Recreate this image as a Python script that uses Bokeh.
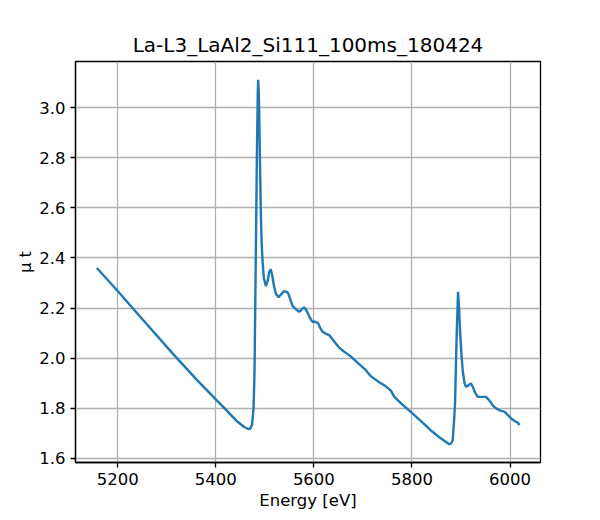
from bokeh.embed import file_html
from bokeh.resources import INLINE
from bokeh.models import FixedTicker, PrintfTickFormatter, Range1d
from bokeh.plotting import figure

# Energy scan
energy = [5157.6, 5200, 5224, 5250, 5316, 5360, 5400, 5415, 5442, 5458, 5466,
          5470, 5474, 5477, 5479, 5481.5, 5483.7, 5485.5, 5486.4, 5487.5, 5488.4,
          5490, 5491.8, 5493.5, 5495.3, 5498, 5502, 5506, 5509, 5512, 5515,
          5519, 5523, 5528, 5533, 5539.5, 5544, 5547.6, 5552, 5556.5, 5562,
          5570, 5575, 5580, 5585, 5591, 5597, 5603, 5608, 5613, 5618,
          5625, 5631, 5640, 5650, 5660, 5675, 5690, 5706, 5716, 5730,
          5745, 5757, 5764, 5780, 5801, 5820, 5838, 5855, 5870, 5876,
          5880, 5883, 5885.5, 5887.8, 5891, 5893.9, 5896, 5898, 5901, 5903.4,
          5907, 5910, 5915, 5920, 5924, 5929, 5934, 5942, 5951, 5958,
          5965, 5972, 5981.6, 5988, 5993, 6002, 6010, 6016, 6019]
mu_t = [2.360, 2.268, 2.214, 2.156, 2.010, 1.916, 1.835, 1.805, 1.750, 1.725, 1.717,
        1.718, 1.735, 1.800, 1.950, 2.390, 2.790, 3.050, 3.112, 3.070, 2.990,
        2.800, 2.590, 2.460, 2.390, 2.320, 2.288, 2.310, 2.345, 2.355, 2.330,
        2.285, 2.255, 2.243, 2.255, 2.268, 2.265, 2.259, 2.235, 2.209, 2.198,
        2.185, 2.195, 2.203, 2.190, 2.165, 2.145, 2.145, 2.141, 2.120, 2.105,
        2.097, 2.092, 2.070, 2.045, 2.028, 2.007, 1.980, 1.952, 1.928, 1.908,
        1.890, 1.870, 1.845, 1.815, 1.779, 1.745, 1.712, 1.685, 1.664, 1.656,
        1.660, 1.672, 1.740, 1.820, 2.085, 2.265, 2.200, 2.110, 2.010, 1.952,
        1.900, 1.885, 1.892, 1.899, 1.885, 1.860, 1.845, 1.845, 1.845, 1.830,
        1.810, 1.798, 1.789, 1.786, 1.777, 1.759, 1.748, 1.742, 1.732]

x_ticks = [5200, 5400, 5600, 5800, 6000]
y_ticks = [1.6, 1.8, 2.0, 2.2, 2.4, 2.6, 2.8, 3.0]

FONT = "DejaVu Sans"

p = figure(frame_width=465, frame_height=401,
           x_range=Range1d(5114, 6062), y_range=Range1d(1.583, 3.185),
           output_backend="svg", toolbar_location=None,
           min_border_left=75, min_border_right=50,
           min_border_top=61, min_border_bottom=40,
           title="La-L3_LaAl2_Si111_100ms_180424")

p.title.align = "center"
p.title.text_font = FONT
p.title.text_font_size = "20px"
p.title.text_font_style = "normal"
p.title.text_color = "black"

p.outline_line_color = "black"
p.outline_line_width = 1.3

for ax in (p.xaxis[0], p.yaxis[0]):
    ax.axis_line_color = "black"
    ax.axis_line_width = 1.3
    ax.major_tick_line_color = "black"
    ax.major_tick_line_width = 1.3
    ax.major_tick_out = 5
    ax.major_tick_in = 0
    ax.minor_tick_line_color = None
    ax.major_label_text_font = FONT
    ax.major_label_text_font_size = "16.5px"
    ax.major_label_text_color = "black"
    ax.axis_label_text_font = FONT
    ax.axis_label_text_font_size = "16.5px"
    ax.axis_label_text_font_style = "normal"
    ax.axis_label_text_color = "black"

p.xaxis.ticker = FixedTicker(ticks=x_ticks)
p.yaxis.ticker = FixedTicker(ticks=y_ticks)
p.xaxis.formatter = PrintfTickFormatter(format="%d")
p.yaxis.formatter = PrintfTickFormatter(format="%.1f")
p.xaxis.axis_label = "Energy [eV]"
p.yaxis.axis_label = "μ t"
p.xaxis.axis_label_standoff = 3
p.yaxis.axis_label_standoff = 1

p.grid.grid_line_color = "#b0b0b0"
p.grid.grid_line_width = 1.3

p.line(energy, mu_t, line_color="#1f77b4", line_width=2.4)

open("out.html", "w").write(file_html(p, INLINE))
